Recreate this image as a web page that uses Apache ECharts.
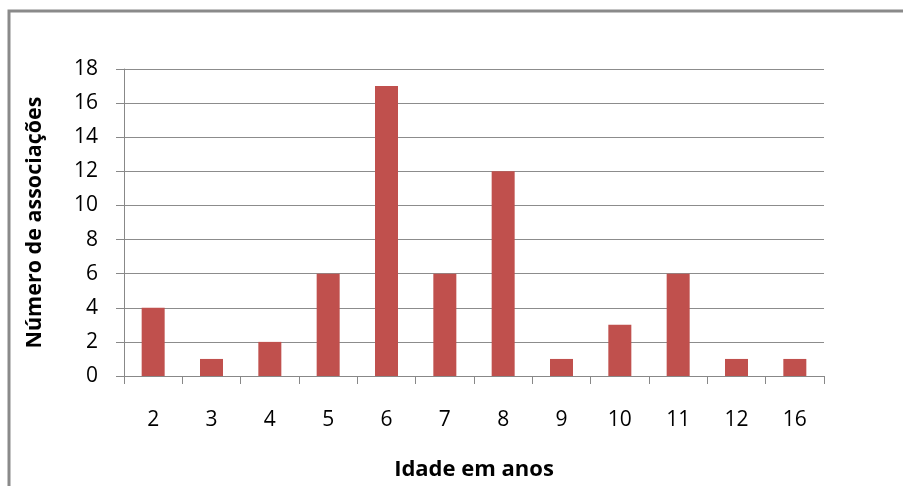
<!DOCTYPE html>
<html>
<head>
<meta charset="utf-8">
<script src="https://cdn.jsdelivr.net/npm/echarts@6/dist/echarts.min.js"></script>
<style>
  html, body { margin: 0; padding: 0; background: #fff; }
  #chart { width: 903px; height: 486px; }
</style>
</head>
<body>
<div id="chart"></div>
<script>
// Idade (anos) e número de associações
const ages = ['2', '3', '4', '5', '6', '7', '8', '9', '10', '11', '12', '16'];
const associations = [4, 1, 2, 6, 17, 6, 12, 1, 3, 6, 1, 1];
const yTicks = { min: 0, max: 18, step: 2 };

const FONT = '"Open Sans", Lato, sans-serif';
const chart = echarts.init(document.getElementById('chart'), null, { renderer: 'canvas' });

chart.setOption({
  animation: false,
  backgroundColor: '#ffffff',
  graphic: [{
    type: 'rect',
    shape: { x: 9, y: 11, width: 960, height: 520 },
    style: { fill: 'none', stroke: '#8a8a8a', lineWidth: 3 },
    silent: true
  }],
  grid: { left: 124, right: 79, top: 69, bottom: 106 },
  xAxis: {
    type: 'category',
    data: ages,
    name: 'Idade em anos',
    nameLocation: 'middle',
    nameGap: 83,
    nameTextStyle: { fontFamily: FONT, fontSize: 22, fontWeight: 'bold', color: '#000' },
    axisLine: { lineStyle: { color: '#888', width: 1 } },
    axisTick: { show: true, length: 8, lineStyle: { color: '#888' } },
    axisLabel: { fontFamily: FONT, fontSize: 21, color: '#000', margin: 34 }
  },
  yAxis: {
    type: 'value',
    min: yTicks.min,
    max: yTicks.max,
    interval: yTicks.step,
    name: 'Número de associações',
    nameLocation: 'middle',
    nameRotate: 90,
    nameGap: 78,
    nameTextStyle: { fontFamily: FONT, fontSize: 21.5, fontWeight: 'bold', color: '#000' },
    axisLine: { show: true, lineStyle: { color: '#888', width: 1 } },
    axisTick: { show: true, length: 8, lineStyle: { color: '#888' } },
    axisLabel: { fontFamily: FONT, fontSize: 21, color: '#000', margin: 26 },
    splitLine: { lineStyle: { color: '#8c8c8c', width: 1 } }
  },
  series: [{
    type: 'bar',
    data: associations,
    barWidth: 23,
    itemStyle: { color: '#C0504D' }
  }]
});
</script>
</body>
</html>
